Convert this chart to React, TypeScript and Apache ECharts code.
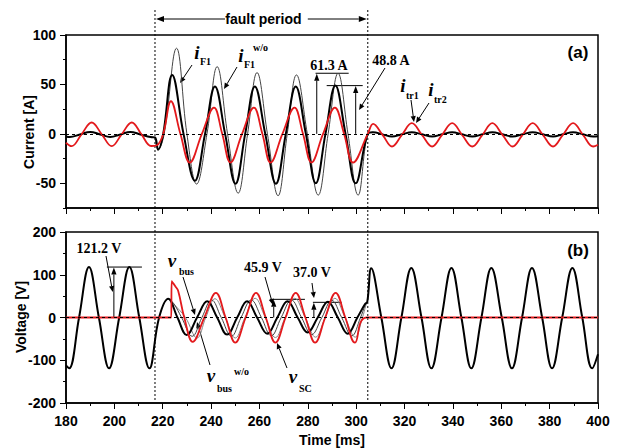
import React, { useEffect, useRef } from 'react';
import * as echarts from 'echarts';

// ---------- data (time [ms], value) ----------
const faultStart = 216.8;
const faultEnd = 304.8;

// panel (a) currents [A]
const iF1: [number, number][] = [
  [180, -2.6], [181.6, -3.2], [185.8, -0.6], [190, 2], [194.2, -0.6], [198.3, -3.2], [202.5, -0.6], [206.6, 2],
  [210.8, -0.6], [215, -3.2], [216.8, -3.6], [218.1, -16], [220.2, 0], [223.9, 59.6], [228.6, 0], [233.3, -47.5],
  [237.5, 0], [241.6, 47.8], [245.8, 0], [250.1, -50.5], [254.1, 0], [258.1, 47.8], [262.4, 0], [266.8, -50.5],
  [270.9, 0], [275, 47.8], [279.2, 0], [283.3, -50], [287.3, 0], [291.4, 48.8], [295.6, 0], [299.8, -50],
  [304.8, 0], [307, 1.7], [310.9, -0.5], [314.8, -2.7], [318.9, -0.5], [323, 1.7], [327.2, -0.5], [331.4, -2.7],
  [335.5, -0.5], [339.7, 1.7], [343.8, -0.5], [348, -2.7], [352.2, -0.5], [356.3, 1.7], [360.5, -0.5], [364.7, -2.7],
  [368.8, -0.5], [373, 1.7], [377.2, -0.5], [381.4, -2.7], [385.5, -0.5], [389.7, 1.7], [393.8, -0.5], [398, -2.7],
  [400, -2.5],
];
const iF1wo: [number, number][] = [
  [216.8, -3.6], [218.1, -16], [220.6, 0], [225.7, 86.6], [230, 0], [234, -50.8], [238.3, 0], [242.5, 68],
  [246.8, 0], [251.2, -60], [255.1, 0], [259, 62], [263.3, 0], [267.7, -62.6], [271.5, 0], [275.3, 59.6],
  [279.8, 0], [284.3, -62], [288.4, 0], [292.5, 61.3], [296.6, 0], [300.8, -62], [304.8, 0], [307, 1.7],
];
const iTr: [number, number][] = [
  [180, -9], [182.3, -12.5], [186.4, -0.5], [190.6, 11.5], [194.8, -0.5], [198.9, -12.5], [203, -0.5], [207.2, 11.5],
  [211.2, -0.5], [215.2, -12.3], [217.6, -11.5], [220.2, 0], [223.4, 33], [227.3, 0], [231.2, -29], [236.2, 0],
  [241.2, 26.6], [244.6, 0], [248, -29], [252.8, 0], [257.7, 26.6], [261.2, 0], [264.6, -29], [269.5, 0],
  [274.5, 26.6], [278, 0], [281.5, -29], [286.3, 0], [291.2, 26.6], [295, 0], [298.7, -29], [304.8, 0],
  [307, 10], [310.9, -1], [314.8, -12.8], [318.9, -1], [323, 10.8], [327.2, -1], [331.4, -12.8], [335.5, -1],
  [339.7, 10.8], [343.8, -1], [348, -12.8], [352.2, -1], [356.3, 10.8], [360.5, -1], [364.7, -12.8], [368.8, -1],
  [373, 10.8], [377.2, -1], [381.4, -12.8], [385.5, -1], [389.7, 10.8], [393.8, -1], [398, -12.8], [400, -11],
];

// panel (b) voltages [V]
const vBus: [number, number][] = [
  [180, -112], [181.3, -119], [185.4, 0], [189.5, 118], [193.6, 0], [197.8, -119], [202, 0], [206.2, 118],
  [210.3, 0], [214.5, -119], [218.5, 0], [222.3, 44], [226.1, 0], [229.9, -41], [234.2, 0], [238.4, 38],
  [242.5, 0], [246.6, -40], [250.8, 0], [254.9, 38], [259, 0], [263.2, -38], [267.4, 0], [271.6, 38],
  [275.8, 0], [279.9, -35], [284.1, 0], [288.3, 37], [292.4, 0], [296.5, -38], [300.5, 0], [303.6, 31],
  [304.6, 37], [306.2, 115], [310.4, 0], [314.6, -119], [318.7, 0], [322.8, 116], [327, 0], [331.1, -119],
  [335.3, 0], [339.4, 116], [343.5, 0], [347.6, -119], [351.8, 0], [355.9, 116], [360.2, 0], [364.4, -119],
  [368.6, 0], [372.7, 116], [376.9, 0], [381, -119], [385.2, 0], [389.4, 116], [393.5, 0], [397.6, -119],
  [400, -86],
];
const vBusWoDark: [number, number][] = [
  [222.3, 44], [224.5, 33], [227.8, 0], [232.2, -44], [236.2, 0], [240.2, 41], [244.2, 0], [248.4, -44],
  [252.4, 0], [256.6, 41], [260.8, 0], [264.9, -43], [269, 0], [273.2, 41], [277.4, 0], [281.6, -40],
  [285.8, 0], [289.9, 40], [294, 0], [298.2, -43], [301.8, 0], [303.8, 30], [304.6, 37],
];
const vBusWoLight: [number, number][] = [
  [222.3, 44], [224.8, 30], [229.4, 0], [234.2, -48], [237.8, 0], [241.6, 44], [245.8, 0], [250, -48],
  [254, 0], [258.2, 45], [262.4, 0], [266.6, -47], [270.6, 0], [274.6, 45], [278.9, 0], [283.2, -46],
  [287.2, 0], [291.2, 45], [295.4, 0], [299.6, -46], [302.6, 0], [304, 28], [304.6, 37],
];
const vSC: [number, number][] = [
  [180, 0], [223.5, 0], [223.7, 85], [225.2, 73], [226.4, 62], [228.9, 0], [232.4, -57], [237.2, 0],
  [242, 57.7], [246, 0], [250, -59], [254.3, 0], [258.6, 57.7], [262.6, 0], [266.6, -59], [270.8, 0],
  [275, 57.7], [279, 0], [283, -59], [287.2, 0], [291.5, 57.7], [295.5, 0], [299.5, -59], [304.3, 0],
  [400, 0],
];

// tick values
const topMajor = [-50, 0, 50, 100];
const topMinor = [-75, -25, 25, 75];

// value markers: [grid, arrow t, line t0, line t1, level, label, label x, label y]
const markers: [number, number, number, number, number, string, number, number][] = [
  [0, 283.7, 283.2, 296.9, 61.3, '61.3 A', 329, 65],
  [0, 299.8, 287.8, 302.7, 48.8, '48.8 A', 391, 60],
  [1, 199.8, 196.9, 211.4, 118, '121.2 V', 99, 248],
  [1, 265.9, 264.3, 278.8, 42.5, '45.9 V', 263, 267],
  [1, 282.5, 282.1, 294.0, 35.5, '37.0 V', 312, 272],
];

const SANS = '"Liberation Sans", Arial, sans-serif';
const SERIF = '"Liberation Serif", "Times New Roman", serif';

function arrow(x1: number, y1: number, x2: number, y2: number, head = 6, w = 2.6): any[] {
  const a = Math.atan2(y2 - y1, x2 - x1);
  const bx = x2 - head * Math.cos(a);
  const by = y2 - head * Math.sin(a);
  const px = -Math.sin(a) * w;
  const py = Math.cos(a) * w;
  return [
    { type: 'line', silent: true, shape: { x1, y1, x2: bx, y2: by }, style: { stroke: '#000', lineWidth: 1 } },
    { type: 'polygon', silent: true, shape: { points: [[x2, y2], [bx + px, by + py], [bx - px, by - py]] }, style: { fill: '#000' } },
  ];
}

function txt(x: number, y: number, text: string, o: any = {}): any {
  return {
    type: 'text', x, y, silent: true, rotation: o.rotation || 0,
    style: {
      text, fill: '#000', align: o.align || 'center', verticalAlign: 'middle',
      fontSize: o.size || 14, fontFamily: o.family || SERIF, fontWeight: 'bold', fontStyle: o.italic ? 'italic' : 'normal',
    },
  };
}

function sym(x: number, y: number, s: string, sub: string, subX: number, subY: number, sup?: string, supX?: number, supY?: number): any[] {
  const r = [
    txt(x, y, s, { size: 19, italic: true }),
    txt(subX, subY, sub, { size: 10, align: 'left' }),
  ];
  if (sup) r.push(txt(supX as number, supY as number, sup, { size: 10, align: 'left' }));
  return r;
}

const axisFont = { fontFamily: SANS, fontWeight: 'bold' as const, fontSize: 14, color: '#000' };
const axisLine = { show: true, onZero: false, lineStyle: { color: '#000', width: 1.5 } };

function line(data: [number, number][], color: string, width: number, xi: number, yi: number, extra: any = {}): any {
  return {
    type: 'line', data, xAxisIndex: xi, yAxisIndex: yi, showSymbol: false, symbol: 'none',
    smooth: 0.4, lineStyle: { color, width }, silent: true, ...extra,
  };
}

const zeroLine = {
  silent: true, symbol: ['none', 'none'], label: { show: false },
  lineStyle: { type: [3, 3], color: '#000', width: 1 }, data: [{ yAxis: 0 }],
};

export default function App() {
  const ref = useRef<HTMLDivElement>(null);
  useEffect(() => {
    document.body.style.margin = '0';
    const chart = echarts.init(ref.current as HTMLDivElement, null, { renderer: 'svg' });
    const option: any = {
      animation: false,
      backgroundColor: '#fff',
      grid: [
        { left: 66, right: 20, top: 35, height: 173, show: true, borderColor: '#000', borderWidth: 1.5 },
        { left: 66, right: 20, top: 232, height: 172, show: true, borderColor: '#000', borderWidth: 1.5 },
      ],
      xAxis: [
        {
          type: 'value', gridIndex: 0, min: 180, max: 400, interval: 20, axisLine,
          axisTick: { show: true, length: 6, lineStyle: { color: '#000' } },
          minorTick: { show: true, splitNumber: 2, length: 3, lineStyle: { color: '#000' } },
          axisLabel: { show: false }, splitLine: { show: false },
        },
        {
          type: 'value', gridIndex: 1, min: 180, max: 400, interval: 20, axisLine,
          axisTick: { show: true, length: 6, lineStyle: { color: '#000' } },
          minorTick: { show: true, splitNumber: 2, length: 3, lineStyle: { color: '#000' } },
          axisLabel: { show: true, margin: 11, ...axisFont }, splitLine: { show: false },
          name: 'Time [ms]', nameLocation: 'middle', nameGap: 30, nameTextStyle: axisFont,
        },
      ],
      yAxis: [
        {
          type: 'value', gridIndex: 0, min: -75, max: 100, axisLine,
          axisTick: { show: true, length: 6, customValues: topMajor, lineStyle: { color: '#000' } },
          axisLabel: { show: true, margin: 10, customValues: topMajor, ...axisFont },
          splitLine: { show: false },
        },
        {
          type: 'value', gridIndex: 0, min: -75, max: 100, position: 'left', offset: 0,
          axisLine: { show: false },
          axisTick: { show: true, length: 3, customValues: topMinor, lineStyle: { color: '#000' } },
          axisLabel: { show: false }, splitLine: { show: false },
        },
        {
          type: 'value', gridIndex: 1, min: -200, max: 200, interval: 100, axisLine,
          axisTick: { show: true, length: 6, lineStyle: { color: '#000' } },
          minorTick: { show: true, splitNumber: 2, length: 3, lineStyle: { color: '#000' } },
          axisLabel: { show: true, margin: 10, ...axisFont }, splitLine: { show: false },
        },
      ],
      series: [
        line(iF1wo, '#444', 1, 0, 0, { markLine: zeroLine }),
        line(iF1, '#000', 2, 0, 0),
        line(iTr, '#e3191c', 1.8, 0, 0),
        line(vBusWoLight, '#888', 1, 1, 2, { markLine: zeroLine }),
        line(vBusWoDark, '#444', 1, 1, 2),
        line(vBus, '#000', 2, 1, 2),
        line(vSC, '#e3191c', 1.8, 1, 2),
      ],
    };
    chart.setOption(option);

    const P = (g: number, t: number, v: number): number[] =>
      chart.convertToPixel({ gridIndex: g } as any, [t, v]) as number[];

    const gr: any[] = [];
    // fault period boundaries
    const xs = P(0, faultStart, 0)[0];
    const xe = P(0, faultEnd, 0)[0];
    for (const x of [xs, xe]) {
      gr.push({ type: 'line', silent: true, shape: { x1: x, y1: 10, x2: x, y2: 402 }, style: { stroke: '#000', lineWidth: 1, lineDash: [2, 2] } });
    }
    gr.push(...arrow(xs + 70, 19, xs + 1, 19, 8, 3));
    gr.push(...arrow(xe - 60, 19, xe - 1, 19, 8, 3));
    gr.push(txt((xs + xe) / 2 + 2, 19, 'fault period', { family: SANS, size: 14 }));

    // value markers
    for (const [g, ta, t0, t1, lv, label, lx, ly] of markers) {
      const a0 = P(g, ta, 0);
      const a1 = P(g, ta, lv);
      const l0 = P(g, t0, lv);
      const l1 = P(g, t1, lv);
      gr.push({ type: 'line', silent: true, shape: { x1: l0[0], y1: l0[1], x2: l1[0], y2: l1[1] }, style: { stroke: '#000', lineWidth: 1 } });
      gr.push(...arrow(a0[0], a0[1], a1[0], a1[1] + 0.5, 7, 2.6));
      gr.push(txt(lx, ly, label, { size: 14 }));
    }

    // pointer arrows
    gr.push(...arrow(385, 68, 359, 110));
    gr.push(...arrow(106, 256, 112.7, 292));
    gr.push(...arrow(265, 277, 273, 305));
    gr.push(...arrow(312, 283, 314, 298));
    gr.push(...arrow(192, 65, 180, 83));
    gr.push(...arrow(237, 67, 224, 89));
    gr.push(...arrow(411, 100, 414, 122));
    gr.push(...arrow(429, 103, 416, 123));
    gr.push(...arrow(183, 277, 195, 315));
    gr.push(...arrow(210, 365, 197, 322));
    gr.push(...arrow(287, 368, 277, 343));

    // symbols
    gr.push(...sym(197, 52, 'i', 'F1', 200, 61));
    gr.push(...sym(241, 55, 'i', 'F1', 244, 64, 'w/o', 253, 47));
    gr.push(...sym(403, 85, 'i', 'tr1', 406, 95));
    gr.push(...sym(431, 89, 'i', 'tr2', 434, 99));
    gr.push(...sym(172, 260, 'v', 'bus', 179, 271));
    gr.push(...sym(211, 375, 'v', 'bus', 217, 388, 'w/o', 234, 371));
    gr.push(...sym(293, 376, 'v', 'SC', 299, 388));

    // panel tags and axis names
    gr.push(txt(578, 52, '(a)', { family: SANS, size: 17 }));
    gr.push(txt(578, 250, '(b)', { family: SANS, size: 17 }));
    gr.push(txt(29, 132, 'Current [A]', { family: SANS, size: 14, rotation: Math.PI / 2 }));
    gr.push(txt(21, 317, 'Voltage [V]', { family: SANS, size: 14, rotation: Math.PI / 2 }));

    chart.setOption({ graphic: { elements: gr } });
    return () => chart.dispose();
  }, []);
  return <div ref={ref} style={{ width: 618, height: 448 }} />;
}
